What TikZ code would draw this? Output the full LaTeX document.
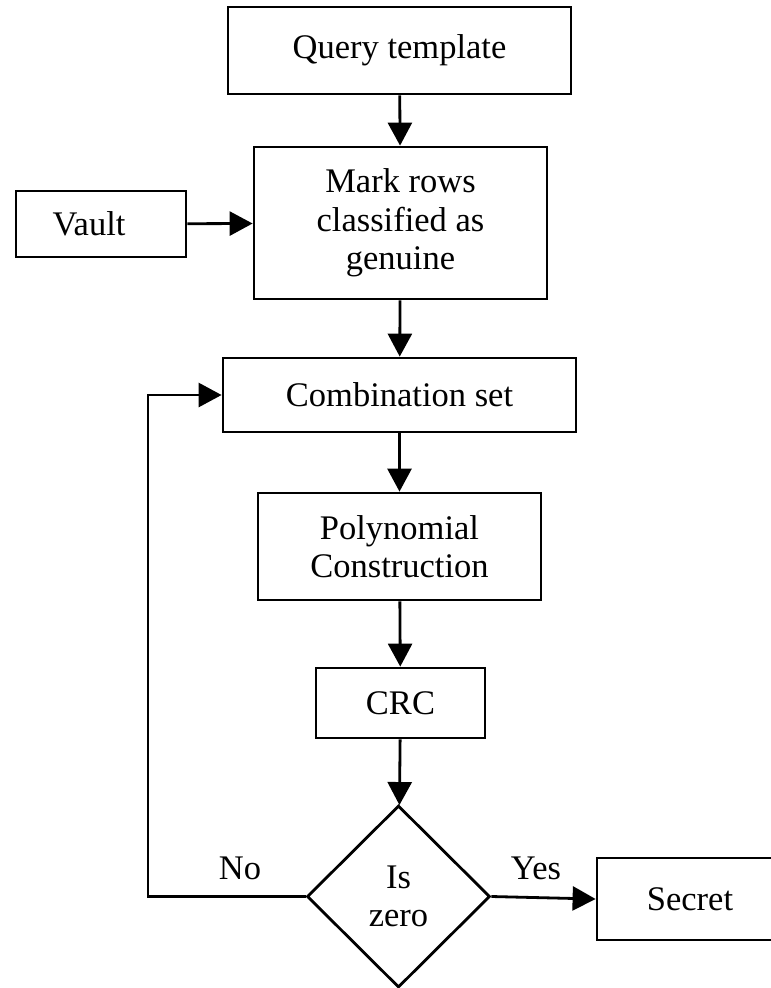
\documentclass[tikz,border=0pt]{standalone}
\usepackage{fontspec}
\setmainfont{Liberation Serif}
\usetikzlibrary{shapes.geometric,arrows.meta}
\begin{document}
\begin{tikzpicture}[x=1pt,y=-1pt,
  every node/.style={font=\fontsize{34.5}{38.5}\selectfont},
  box/.style={draw,line width=2.8pt,rectangle,inner sep=0pt,align=center},
  dec/.style={draw,line width=2.8pt,diamond,inner sep=0pt,align=center,minimum width=183pt,minimum height=182pt},
  arr/.style={line width=2.8pt,-{Triangle[length=23pt,width=24pt]}},
  lbl/.style={inner sep=0pt}]
\clip (0,0) rectangle (771,988);
\node[box,minimum width=343pt,minimum height=87pt] (query) at (399.5,50.5) {Query template};
\node[box,minimum width=293pt,minimum height=152pt] (mark) at (400.5,223) {Mark rows\\classified as\\genuine};
\node[box,minimum width=170pt,minimum height=66pt] (vault) at (101,224) {Vault\hspace*{24pt}};
\node[box,minimum width=353pt,minimum height=74pt] (comb) at (399.5,395) {Combination set};
\node[box,minimum width=283pt,minimum height=107pt] (poly) at (399.5,546.5) {Polynomial\\Construction};
\node[box,minimum width=169pt,minimum height=70pt] (crc) at (400.5,703) {CRC};
\node[dec] (dia) at (398.5,896.5) {Is\\zero};
\node[box,minimum width=186pt,minimum height=82pt] (secret) at (690,899) {Secret};
\node[lbl] (no) at (240,868) {No};
\node[lbl] (yes) at (536,868) {Yes};
\coordinate (bend) at (148,896.5);
\draw[arr] (query) -- (mark);
\draw[arr] (vault) -- (mark);
\draw[arr] (mark) -- (comb);
\draw[arr] (comb) -- (poly);
\draw[arr] (poly) -- (crc);
\draw[arr] (crc) -- (dia);
\draw[arr] (dia.east) -- (secret.west);
\draw[arr] (dia.west) -- (bend) |- (comb.west);
\end{tikzpicture}
\end{document}
